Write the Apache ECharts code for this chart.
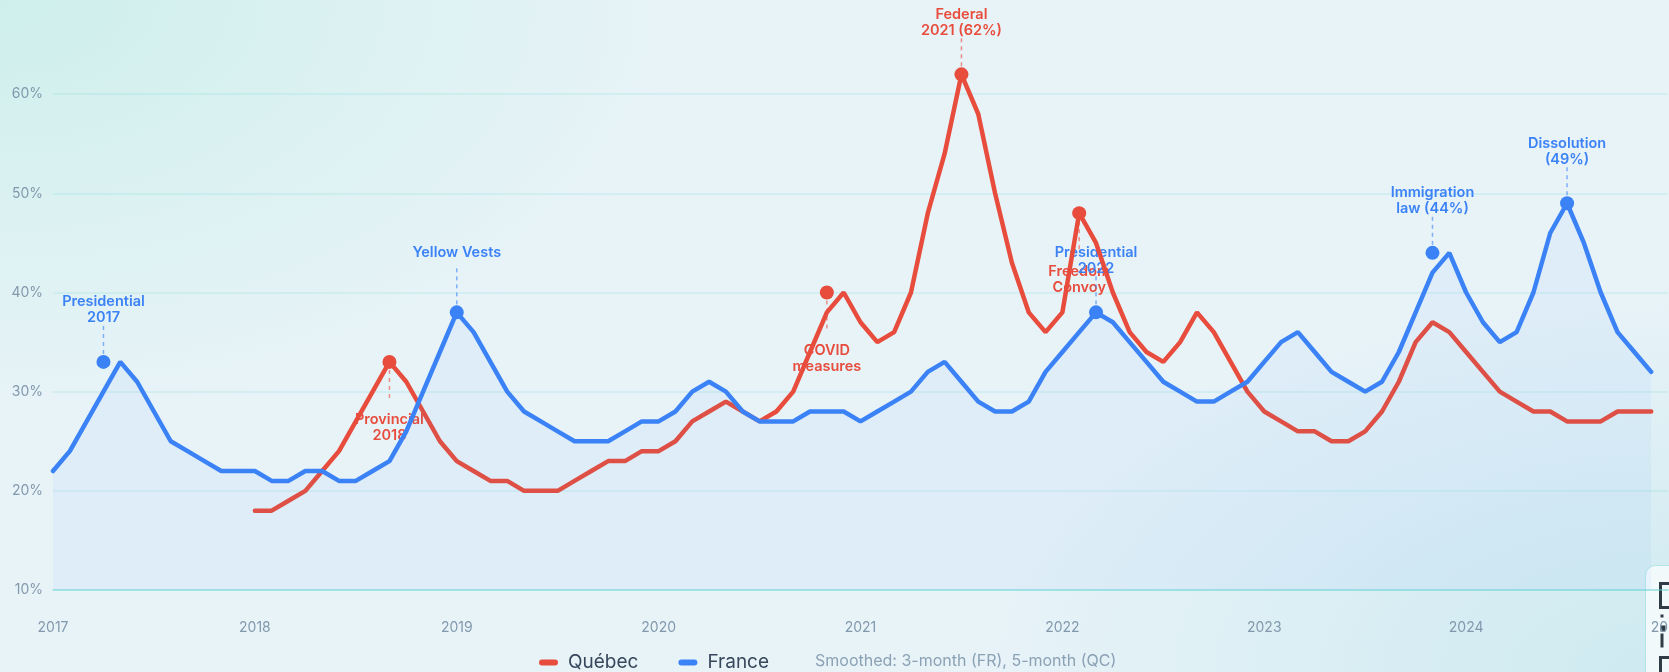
<!DOCTYPE html>
<html>
<head>
<meta charset="utf-8">
<script src="https://cdn.jsdelivr.net/npm/echarts@6/dist/echarts.min.js"></script>
<style>
html, body { margin: 0; padding: 0; width: 1669px; height: 672px; overflow: hidden; }
body {
  background:
    radial-gradient(ellipse 700px 420px at 0% 0%, rgba(206,239,236,1) 0%, rgba(206,239,236,0) 100%),
    radial-gradient(ellipse 700px 380px at 100% 100%, rgba(205,234,240,1) 0%, rgba(205,234,240,0) 100%),
    #e8f3f8;
}
#chart { width: 1669px; height: 672px; }
</style>
</head>
<body>
<div id="chart"></div>
<script>
// ---- data ----
const months = [
  '2017-01','2017-02','2017-03','2017-04','2017-05','2017-06','2017-07','2017-08','2017-09','2017-10','2017-11','2017-12',
  '2018-01','2018-02','2018-03','2018-04','2018-05','2018-06','2018-07','2018-08','2018-09','2018-10','2018-11','2018-12',
  '2019-01','2019-02','2019-03','2019-04','2019-05','2019-06','2019-07','2019-08','2019-09','2019-10','2019-11','2019-12',
  '2020-01','2020-02','2020-03','2020-04','2020-05','2020-06','2020-07','2020-08','2020-09','2020-10','2020-11','2020-12',
  '2021-01','2021-02','2021-03','2021-04','2021-05','2021-06','2021-07','2021-08','2021-09','2021-10','2021-11','2021-12',
  '2022-01','2022-02','2022-03','2022-04','2022-05','2022-06','2022-07','2022-08','2022-09','2022-10','2022-11','2022-12',
  '2023-01','2023-02','2023-03','2023-04','2023-05','2023-06','2023-07','2023-08','2023-09','2023-10','2023-11','2023-12',
  '2024-01','2024-02','2024-03','2024-04','2024-05','2024-06','2024-07','2024-08','2024-09','2024-10','2024-11','2024-12',
  '2025-01'
];

const franceValues = [
  22, 24, 27, 30, 33, 31, 28, 25, 24, 23, 22, 22,
  22, 21, 21, 22, 22, 21, 21, 22, 23, 26, 30, 34,
  38, 36, 33, 30, 28, 27, 26, 25, 25, 25, 26, 27,
  27, 28, 30, 31, 30, 28, 27, 27, 27, 28, 28, 28,
  27, 28, 29, 30, 32, 33, 31, 29, 28, 28, 29, 32,
  34, 36, 38, 37, 35, 33, 31, 30, 29, 29, 30, 31,
  33, 35, 36, 34, 32, 31, 30, 31, 34, 38, 42, 44,
  40, 37, 35, 36, 40, 46, 49, 45, 40, 36, 34, 32
];

const quebecValues = [
  null, null, null, null, null, null, null, null, null, null, null, null,
  18, 18, 19, 20, 22, 24, 27, 30, 33, 31, 28, 25,
  23, 22, 21, 21, 20, 20, 20, 21, 22, 23, 23, 24,
  24, 25, 27, 28, 29, 28, 27, 28, 30, 34, 38, 40,
  37, 35, 36, 40, 48, 54, 62, 58, 50, 43, 38, 36,
  38, 48, 45, 40, 36, 34, 33, 35, 38, 36, 33, 30,
  28, 27, 26, 26, 25, 25, 26, 28, 31, 35, 37, 36,
  34, 32, 30, 29, 28, 28, 27, 27, 27, 28, 28, 28
];

const yMin = 10;
const yMax = 70;
const yStep = 10;

const annMonths  = ['2017-04', '2018-09', '2019-01', '2020-11', '2021-07', '2022-02', '2022-03', '2023-11', '2024-07'];
const annValues  = [33, 33, 38, 40, 62, 48, 38, 44, 49];
const annLabels  = ['Presidential\n2017', 'Provincial\n2018', 'Yellow Vests', 'COVID\nmeasures', 'Federal\n2021 (62%)',
                    'Freedom\nConvoy', 'Presidential\n2022', 'Immigration\nlaw (44%)', 'Dissolution\n(49%)'];
const annCountry = ['France', 'Québec', 'France', 'Québec', 'Québec', 'Québec', 'France', 'France', 'France'];
const annSide    = ['above', 'below', 'above', 'below', 'above', 'below', 'above', 'above', 'above'];

const noteText = 'Smoothed: 3-month (FR), 5-month (QC)';

// ---- styles ----
const RED = '#e74c3c';
const BLUE = '#3b82f6';
const FONT = 'Inter, "Noto Sans", sans-serif';
const colorOf = c => (c === 'Québec' ? RED : BLUE);

const annData = annMonths.map((m, i) => [m, annValues[i], i]);

const chart = echarts.init(document.getElementById('chart'), null, { renderer: 'canvas' });

const option = {
  animation: false,
  backgroundColor: 'transparent',
  grid: { left: 53, right: 1, top: -5, bottom: 82, containLabel: false, outerBoundsMode: 'none' },
  xAxis: {
    type: 'category',
    data: months,
    boundaryGap: false,
    axisLine: { show: true, lineStyle: { color: 'rgba(92,212,206,0.55)', width: 1.5 } },
    axisTick: { show: false },
    splitLine: { show: false },
    axisLabel: {
      interval: (idx, val) => val.endsWith('-01'),
      formatter: val => val.slice(0, 4),
      color: '#8299ad',
      fontSize: 14,
      fontFamily: FONT,
      margin: 31,
      hideOverlap: false
    }
  },
  yAxis: {
    type: 'value',
    min: yMin,
    max: yMax,
    interval: yStep,
    axisLine: { show: false },
    axisTick: { show: false },
    axisLabel: {
      formatter: '{value}%',
      color: '#8299ad',
      fontSize: 14,
      fontFamily: FONT,
      margin: 10,
      showMaxLabel: false
    },
    splitLine: { lineStyle: { color: 'rgba(110,214,214,0.22)', width: 1.5 } }
  },
  legend: {
    data: ['Québec', 'France'],
    left: 534,
    top: 648,
    itemWidth: 19,
    itemHeight: 6,
    itemGap: 40,
    icon: 'path://M3,0 L16,0 A3,3 0 0 1 16,6 L3,6 A3,3 0 0 1 3,0 Z',
    formatter: '{t|{name}}',
    textStyle: {
      rich: { t: { fontSize: 19, color: '#37485c', fontFamily: FONT, padding: [0, 0, 0, 5] } }
    },
    selectedMode: false
  },
  graphic: [
    {
      type: 'text',
      left: 815,
      top: 653,
      style: { text: noteText, fill: '#8ba1b4', font: '16px ' + FONT }
    },
    {
      type: 'group',
      left: 1645,
      top: 565,
      z: 100,
      children: [
        { type: 'rect', shape: { x: 0, y: 0, width: 60, height: 120, r: 10 },
          style: { fill: 'rgba(246,250,252,0.88)', stroke: 'rgba(140,222,222,0.6)', lineWidth: 1 } },
        { type: 'rect', shape: { x: 15, y: 18, width: 20, height: 24 }, style: { fill: 'none', stroke: '#2f3b45', lineWidth: 3 } },
        { type: 'rect', shape: { x: 15, y: 49, width: 3, height: 3 }, style: { fill: '#2f3b45' } },
        { type: 'rect', shape: { x: 15, y: 60, width: 5, height: 6 }, style: { fill: '#2f3b45' } },
        { type: 'rect', shape: { x: 15, y: 68, width: 3, height: 14 }, style: { fill: '#2f3b45' } },
        { type: 'rect', shape: { x: 15, y: 92, width: 20, height: 24 }, style: { fill: 'none', stroke: '#2f3b45', lineWidth: 3 } }
      ]
    }
  ],
  series: [
    {
      name: 'annotations',
      type: 'custom',
      coordinateSystem: 'cartesian2d',
      data: annData,
      encode: { x: 0, y: 1 },
      z: 1,
      silent: true,
      renderItem: (params, api) => {
        const i = api.value(2);
        const p = api.coord([api.value(0), api.value(1)]);
        const color = colorOf(annCountry[i]);
        const nLines = annLabels[i].split('\n').length;
        let textY, d1, d2;
        if (annSide[i] === 'above') {
          textY = p[1] - 68;
          d1 = p[1] - 8;
          d2 = Math.min(p[1] - 38, textY + nLines * 16 + 6);
        } else {
          textY = p[1] + 50;
          d1 = p[1] + 8;
          d2 = p[1] + 38;
        }
        return {
          type: 'group',
          children: [
            { type: 'line', shape: { x1: p[0], y1: d1, x2: p[0], y2: d2 },
              style: { stroke: color, opacity: 0.6, lineWidth: 1.5, lineDash: [4, 4] } },
            { type: 'text',
              style: { text: annLabels[i], x: p[0], y: textY, align: 'center', verticalAlign: 'top',
                       fill: color, font: '600 14.5px ' + FONT, lineHeight: 16 } }
          ]
        };
      }
    },
    {
      name: 'Québec',
      type: 'line',
      data: quebecValues,
      symbol: 'none',
      z: 3,
      itemStyle: { color: RED },
      lineStyle: { color: RED, width: 4.5, cap: 'round' }
    },
    {
      name: 'France',
      type: 'line',
      data: franceValues,
      symbol: 'none',
      z: 4,
      itemStyle: { color: BLUE },
      lineStyle: { color: BLUE, width: 4.5, cap: 'round' },
      areaStyle: { color: 'rgba(59,130,246,0.07)' }
    },
    {
      name: 'markers',
      type: 'custom',
      coordinateSystem: 'cartesian2d',
      data: annData,
      encode: { x: 0, y: 1 },
      z: 10,
      silent: true,
      renderItem: (params, api) => {
        const i = api.value(2);
        const p = api.coord([api.value(0), api.value(1)]);
        return { type: 'circle', shape: { cx: p[0], cy: p[1], r: 7 }, style: { fill: colorOf(annCountry[i]) } };
      }
    }
  ]
};

chart.setOption(option);
</script>
</body>
</html>
